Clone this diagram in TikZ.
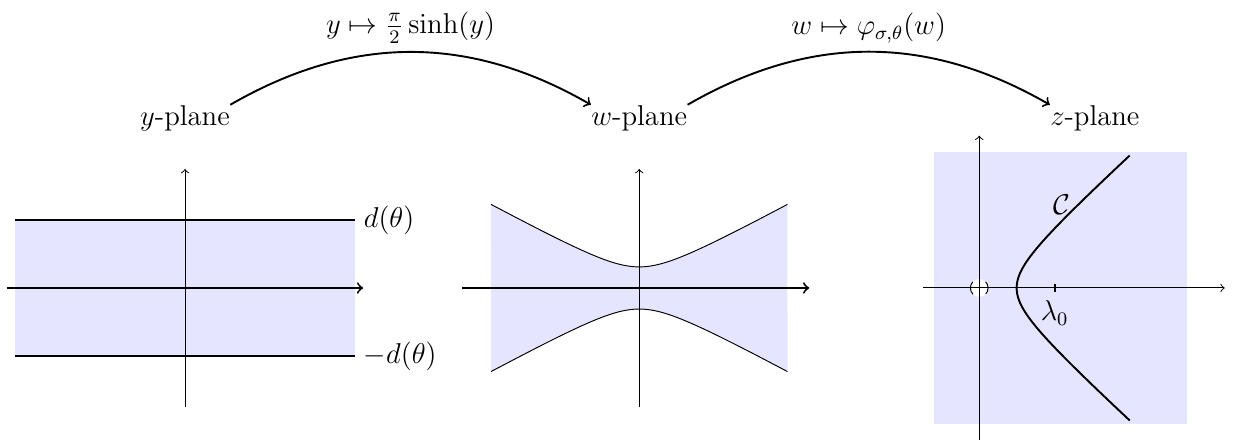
\documentclass[tikz,border=0pt]{standalone}
\begin{document}
\begin{tikzpicture}[every node/.style={font=\large}, planelbl/.style={inner sep=0pt}]
  \useasboundingbox (-2.721,-2.309) rectangle (15.456,4.235);
  % plane titles and the two maps
  \node[planelbl] (yp) at (0,2.5) {$y$-plane};
  \node[planelbl] (wp) at (6.68,2.5) {$w$-plane};
  \node[planelbl] (zp) at (13.38,2.5) {$z$-plane};
  \draw[->, thick] (yp.north east) to[bend left=30] node[above] (mapsinh) {$y \mapsto \frac{\pi}{2}\sinh(y)$} (wp.north west);
  \draw[->, thick] (wp.north east) to[bend left=30] node[above] (mapphi) {$w \mapsto \varphi_{\sigma,\theta}(w)$} (zp.north west);
  % strip in the y-plane
  \fill[blue!10] (-2.5,-1) rectangle (2.5,1);
  \draw[thick] (-2.5,1) -- (2.5,1) node[right] (dtop) {$d(\theta)$};
  \draw[thick] (-2.5,-1) -- (2.5,-1) node[right] (dbot) {$-d(\theta)$};
  \draw[->, thick] (-2.62,0) -- (2.62,0);
  \draw[->] (0,-1.75) -- (0,1.75);
  % image of the strip in the w-plane
  \begin{scope}[xshift=6.68cm]
    \fill[blue!10] plot[domain=-2.055:2.055, variable=\t, samples=50, smooth] ({0.568*sinh(\t)},{0.31*cosh(\t)})
      -- plot[domain=2.055:-2.055, variable=\t, samples=50, smooth] ({0.568*sinh(\t)},{-0.31*cosh(\t)}) -- cycle;
    \foreach \s in {1,-1}
      \draw plot[domain=-2.055:2.055, variable=\t, samples=50, smooth] ({0.568*sinh(\t)},{\s*0.31*cosh(\t)});
    \draw[->, thick] (-2.61,0) -- (2.5,0);
    \draw[->] (0,-1.75) -- (0,1.75);
  \end{scope}
  % contour in the z-plane
  \begin{scope}[xshift=11.68cm]
    \fill[blue!10] (-0.67,-2) rectangle (3.06,2);
    \draw[fill=white, dash pattern=on 0.2cm off 0.2084cm, dash phase=0.1cm] (0,0) circle (0.13);
    \draw[->] (-0.83,0) -- (3.61,0);
    \draw[->] (0,-2.24) -- (0,2.24);
    \draw[thick] plot[domain=-2.07:2.07, variable=\t, samples=60, smooth] ({0.55*cosh(\t)},{0.5*sinh(\t)});
    \draw[thick] (1.11,0.06) -- (1.11,-0.06) node[below] (lam) {$\lambda_0$};
    \node (curvelbl) at (1.21,1.22) {$\mathcal{C}$};
  \end{scope}
\end{tikzpicture}
\end{document}
